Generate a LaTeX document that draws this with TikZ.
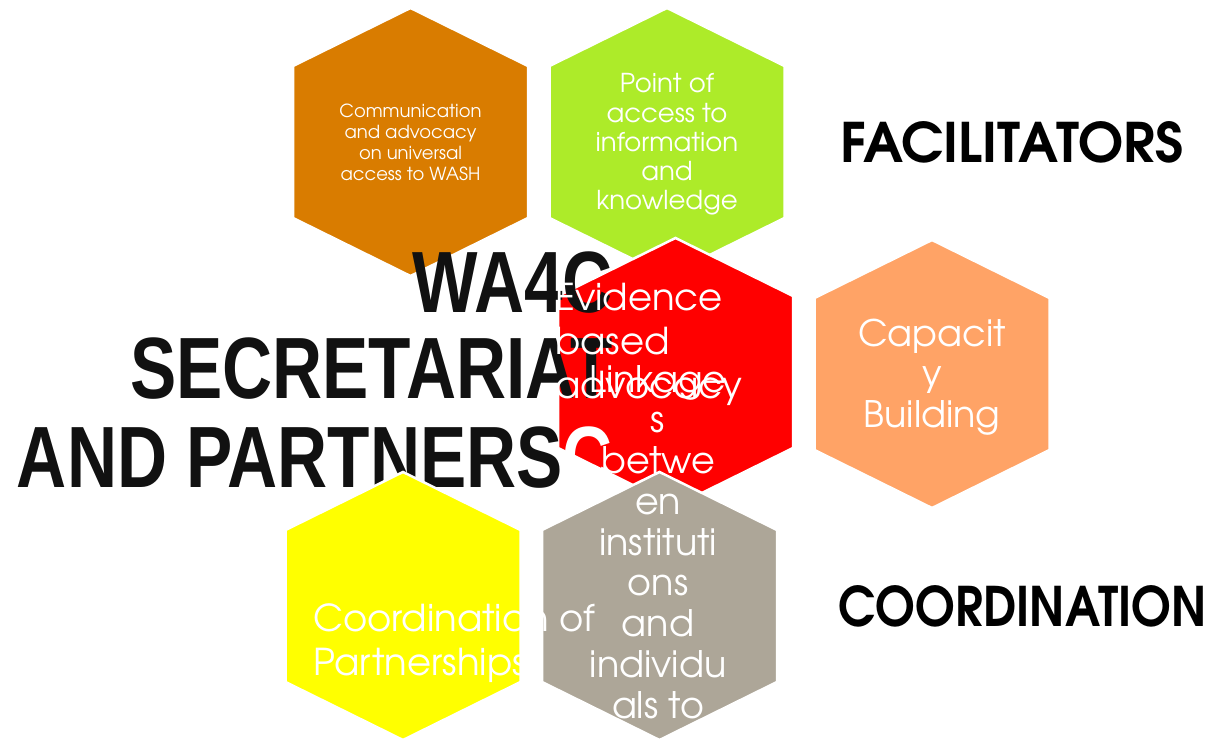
\documentclass[tikz,border=0pt]{standalone}
\usepackage{fontspec}
\usetikzlibrary{calc}
\setmainfont{Liberation Sans}
\newfontfamily\gothic{texgyreadventor-regular.otf}[BoldFont=texgyreadventor-bold.otf]
\definecolor{cOrange}{HTML}{D97C00}
\definecolor{cGreen}{HTML}{ADEB29}
\definecolor{cRed}{HTML}{FF0000}
\definecolor{cPeach}{HTML}{FFA366}
\definecolor{cYellow}{HTML}{FFFF00}
\definecolor{cGray}{HTML}{ADA698}
\definecolor{ink}{HTML}{111111}
\tikzset{
  hexedge/.style={draw=white, line width=2.5pt, line join=miter},
  titletext/.style={text=ink, inner sep=0pt, anchor=base east, font=\fontsize{87}{87}\selectfont\bfseries},
  hextext/.style={text=white, inner sep=0pt, anchor=base},
  hexleft/.style={text=white, inner sep=0pt, anchor=base west},
  sidetext/.style={text=black, inner sep=0pt, anchor=base west, font=\gothic\bfseries\fontsize{57}{57}\selectfont},
}
\newcommand\hexagonat[4]{%
  \coordinate (#1) at (#2,#3);
  \filldraw[fill=#4, hexedge] ($(#1)+(0,-134)$) -- ++(117.5,58) -- ++(0,152)
     -- ++(-117.5,58) -- ++(-117.5,-58) -- ++(0,-152) -- cycle;}
\begin{document}
\begin{tikzpicture}[x=1pt,y=-1pt]
\useasboundingbox (0,0) rectangle (1211,741);
% hexagons (lower layer)
\hexagonat{hOrange}{410.5}{142}{cOrange}
\hexagonat{hGreen}{667}{142}{cGreen}
\hexagonat{hRed}{675.5}{372}{cRed}
% title
\node[titletext] (t1) at (613,312) {\scalebox{0.797}[1]{WA4C}};
\node[titletext] (t2) at (613,398) {\scalebox{0.797}[1]{SECRETARIAT}};
\node[titletext] (t3) at (613,487) {\scalebox{0.797}[1]{AND PARTNERS\textcolor{white}{C}}};
% hexagons (upper layer)
\hexagonat{hPeach}{932}{374}{cPeach}
\hexagonat{hYellow}{403}{606}{cYellow}
\hexagonat{hGray}{659.5}{606}{cGray}
% hexagon texts
\foreach \t [count=\i from 0] in {Communication,and advocacy,on universal,access to WASH}
  \node[hextext, font=\gothic\fontsize{18}{21}\selectfont] (o\i) at (410.5,118+\i*20.7) {\t};
\foreach \t [count=\i from 0] in {Point of,access to,information,and,knowledge}
  \node[hextext, font=\gothic\fontsize{26}{29}\selectfont] (g\i) at (667,93+\i*29.2) {\t};
\foreach \t [count=\i from 0] in {Evidence,based,advocacy}
  \node[hexleft, font=\gothic\fontsize{37}{44}\selectfont] (r\i) at (555,310+\i*44) {\t};
\foreach \t [count=\i from 0] in {Capacit,y,Building}
  \node[hextext, font=\gothic\fontsize{36.5}{40}\selectfont] (p\i) at (932,346+\i*40.5) {\t};
\foreach \t [count=\i from 0] in {Coordination of,Partnerships}
  \node[hexleft, font=\gothic\fontsize{37}{44}\selectfont] (y\i) at (313,631+\i*44) {\t};
\foreach \t [count=\i from 0] in {Linkage,s,betwe,en,instituti,ons,and,individu,als to}
  \node[hextext, font=\gothic\fontsize{36.5}{40}\selectfont] (l\i) at (658,392+\i*40.75) {\t};
% side labels
\node[sidetext] (fac) at (840,163) {\resizebox{343pt}{41pt}{FACILITATORS}};
\node[sidetext] (coo) at (838,626) {\resizebox{369pt}{41pt}{COORDINATION}};
\end{tikzpicture}
\end{document}
